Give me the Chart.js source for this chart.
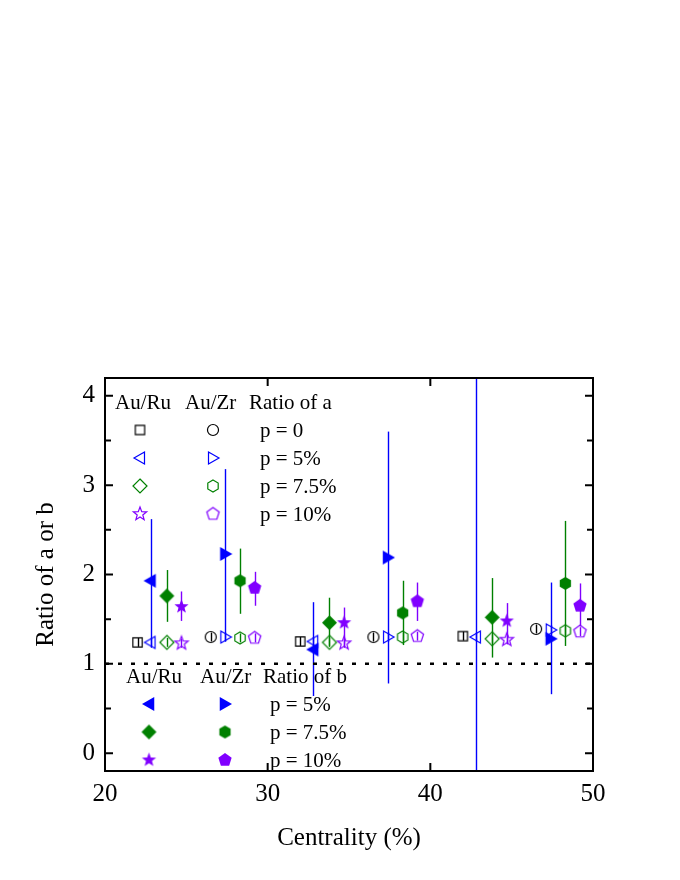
<!DOCTYPE html>
<html>
<head>
<meta charset="utf-8">
<script src="https://cdn.jsdelivr.net/npm/chart.js@4.4.1/dist/chart.umd.min.js"></script>
<style>
  body { margin: 0; background: #fff; }
</style>
</head>
<body>
<canvas id="ratioChart" width="680" height="880"></canvas>
<script>
// axis ranges
const xMin = 20, xMax = 50, yMin = -0.2, yMax = 4.2;
const refLine = 1;

// x positions (centrality %) of each series in the three bins
const xRuP0 = [22.0, 32.0, 42.0];
const xRu5 = [22.8, 32.8, 42.8];
const xRu75 = [23.8, 33.8, 43.8];
const xRu10 = [24.7, 34.7, 44.7];
const xZrP0 = [26.5, 36.5, 46.5];
const xZr5 = [27.4, 37.4, 47.4];
const xZr75 = [28.3, 38.3, 48.3];
const xZr10 = [29.2, 39.2, 49.2];

// ratio of a (open symbols)
const aRuP0 = [1.24, 1.25, 1.31];
const aRu5 = [1.24, 1.25, 1.30];
const aRu75 = [1.24, 1.24, 1.28];
const aRu10 = [1.23, 1.23, 1.27];
const aZrP0 = [1.30, 1.30, 1.39];
const aZr5 = [1.30, 1.30, 1.38];
const aZr75 = [1.29, 1.30, 1.37];
const aZr10 = [1.29, 1.31, 1.36];
const aErr = [0.05, 0.05, 0.05];

// ratio of b (filled symbols) and error bar ranges [low, high]
const bRu5 = [1.93, 1.16, 4.6];
const bRu75 = [1.76, 1.46, 1.52];
const bRu10 = [1.64, 1.46, 1.48];
const bZr5 = [2.23, 2.19, 1.28];
const bZr75 = [1.93, 1.57, 1.90];
const bZr10 = [1.85, 1.70, 1.65];
const eRu5 = [[1.18, 2.62], [0.64, 1.69], [-1.5, 9.0]];
const eRu75 = [[1.47, 2.05], [1.20, 1.74], [1.07, 1.96]];
const eRu10 = [[1.48, 1.81], [1.19, 1.63], [1.22, 1.68]];
const eZr5 = [[1.25, 3.18], [0.78, 3.60], [0.66, 1.91]];
const eZr75 = [[1.56, 2.29], [1.21, 1.93], [1.20, 2.60]];
const eZr10 = [[1.65, 2.03], [1.48, 1.91], [1.42, 1.90]];

const pLabelsA = ['p = 0', 'p = 5%', 'p = 7.5%', 'p = 10%'];
const pLabelsB = ['p = 5%', 'p = 7.5%', 'p = 10%'];

const BLACK = '#000000', BLUE = '#0000ff', GREEN = '#008000', PURPLE = '#8000ff';

function polygon(g, n, r, start) {
  for (let i = 0; i < n; i++) {
    const t = start + i * 2 * Math.PI / n;
    const px = r * Math.cos(t), py = r * Math.sin(t);
    if (i === 0) g.moveTo(px, py); else g.lineTo(px, py);
  }
  g.closePath();
}

// build a marker image for pointStyle
function marker(shape, color, filled, size) {
  const c = document.createElement('canvas');
  c.width = c.height = size + 4;
  const g = c.getContext('2d');
  g.translate(c.width / 2, c.height / 2);
  const r = size / 2;
  g.beginPath();
  if (shape === 'square') {
    g.rect(-r * 0.85, -r * 0.85, r * 1.7, r * 1.7);
  } else if (shape === 'circle') {
    g.arc(0, 0, r * 0.92, 0, Math.PI * 2);
  } else if (shape === 'left') {
    g.moveTo(-r, 0); g.lineTo(r * 0.75, -r); g.lineTo(r * 0.75, r); g.closePath();
  } else if (shape === 'right') {
    g.moveTo(r, 0); g.lineTo(-r * 0.75, -r); g.lineTo(-r * 0.75, r); g.closePath();
  } else if (shape === 'diamond') {
    polygon(g, 4, r, -Math.PI / 2);
  } else if (shape === 'hexagon') {
    polygon(g, 6, r, -Math.PI / 2);
  } else if (shape === 'pentagon') {
    polygon(g, 5, r, -Math.PI / 2);
  } else if (shape === 'star') {
    for (let i = 0; i < 10; i++) {
      const t = -Math.PI / 2 + i * Math.PI / 5;
      const rr = i % 2 === 0 ? r : r * 0.42;
      if (i === 0) g.moveTo(rr * Math.cos(t), rr * Math.sin(t));
      else g.lineTo(rr * Math.cos(t), rr * Math.sin(t));
    }
    g.closePath();
  }
  if (filled) {
    g.fillStyle = color; g.fill();
  } else {
    g.strokeStyle = color; g.lineWidth = 1.2; g.stroke();
  }
  return c;
}

const mk = {
  ruP0: marker('square', BLACK, false, 11),
  zrP0: marker('circle', BLACK, false, 12),
  ru5o: marker('left', BLUE, false, 12),
  zr5o: marker('right', BLUE, false, 12),
  ru75o: marker('diamond', GREEN, false, 14),
  zr75o: marker('hexagon', GREEN, false, 12),
  ru10o: marker('star', PURPLE, false, 14),
  zr10o: marker('pentagon', PURPLE, false, 13),
  ru5f: marker('left', BLUE, true, 14),
  zr5f: marker('right', BLUE, true, 14),
  ru75f: marker('diamond', GREEN, true, 15),
  zr75f: marker('hexagon', GREEN, true, 13),
  ru10f: marker('star', PURPLE, true, 15),
  zr10f: marker('pentagon', PURPLE, true, 14)
};

function series(xs, ys, errs, img, color) {
  return {
    data: xs.map((v, i) => ({x: v, y: ys[i]})),
    err: errs,
    errColor: color,
    pointStyle: img,
    showLine: false
  };
}
const sym = (ys) => ys.map((v, i) => [v - aErr[i], v + aErr[i]]);

const datasets = [
  {
    type: 'line',
    data: [{x: xMin, y: refLine}, {x: xMax, y: refLine}],
    borderColor: BLACK, borderWidth: 2.5, borderDash: [4, 9],
    pointRadius: 0
  },
  series(xRuP0, aRuP0, sym(aRuP0), mk.ruP0, BLACK),
  series(xZrP0, aZrP0, sym(aZrP0), mk.zrP0, BLACK),
  series(xRu5, aRu5, sym(aRu5), mk.ru5o, BLUE),
  series(xZr5, aZr5, sym(aZr5), mk.zr5o, BLUE),
  series(xRu75, aRu75, sym(aRu75), mk.ru75o, GREEN),
  series(xZr75, aZr75, sym(aZr75), mk.zr75o, GREEN),
  series(xRu10, aRu10, sym(aRu10), mk.ru10o, PURPLE),
  series(xZr10, aZr10, sym(aZr10), mk.zr10o, PURPLE),
  series(xRu5, bRu5, eRu5, mk.ru5f, BLUE),
  series(xZr5, bZr5, eZr5, mk.zr5f, BLUE),
  series(xRu75, bRu75, eRu75, mk.ru75f, GREEN),
  series(xZr75, bZr75, eZr75, mk.zr75f, GREEN),
  series(xRu10, bRu10, eRu10, mk.ru10f, PURPLE),
  series(xZr10, bZr10, eZr10, mk.zr10f, PURPLE)
];

// vertical error bars, drawn under the symbols
const errorBars = {
  id: 'errorBars',
  beforeDatasetsDraw(chart) {
    const {ctx, chartArea: a, scales: {x, y}} = chart;
    ctx.save();
    ctx.beginPath();
    ctx.rect(a.left, a.top, a.right - a.left, a.bottom - a.top);
    ctx.clip();
    ctx.lineWidth = 1.4;
    chart.data.datasets.forEach(ds => {
      if (!ds.err) return;
      ctx.strokeStyle = ds.errColor;
      ds.data.forEach((p, i) => {
        const px = Math.round(x.getPixelForValue(p.x)) + 0.5;
        ctx.beginPath();
        ctx.moveTo(px, y.getPixelForValue(ds.err[i][0]));
        ctx.lineTo(px, y.getPixelForValue(ds.err[i][1]));
        ctx.stroke();
      });
    });
    ctx.restore();
  }
};

// box frame with inward ticks on all four sides
const frame = {
  id: 'frame',
  afterDatasetsDraw(chart) {
    const {ctx, chartArea: a, scales: {x, y}} = chart;
    ctx.save();
    ctx.strokeStyle = BLACK;
    ctx.lineWidth = 2;
    ctx.strokeRect(a.left, a.top, a.right - a.left, a.bottom - a.top);
    ctx.beginPath();
    x.ticks.forEach(t => {
      if (t.value <= xMin || t.value >= xMax) return;
      const px = x.getPixelForValue(t.value);
      ctx.moveTo(px, a.bottom); ctx.lineTo(px, a.bottom - 8);
      ctx.moveTo(px, a.top); ctx.lineTo(px, a.top + 8);
    });
    y.ticks.forEach(t => {
      const py = y.getPixelForValue(t.value);
      const len = Number.isInteger(t.value) ? 8 : 6;
      ctx.moveTo(a.left, py); ctx.lineTo(a.left + len, py);
      ctx.moveTo(a.right, py); ctx.lineTo(a.right - len, py);
    });
    ctx.stroke();
    ctx.restore();
  }
};

// the two legend blocks inside the plot
const legendBlocks = {
  id: 'legendBlocks',
  afterDraw(chart) {
    const {ctx, chartArea: a} = chart;
    const put = (img, cx, cy) => ctx.drawImage(img, cx - img.width / 2, cy - img.height / 2);
    ctx.save();
    ctx.font = '21px "Liberation Serif", "Times New Roman", serif';
    ctx.fillStyle = BLACK;
    ctx.textBaseline = 'middle';

    const t1 = a.top + 25;
    ctx.fillText('Au/Ru', a.left + 10, t1);
    ctx.fillText('Au/Zr', a.left + 80, t1);
    ctx.fillText('Ratio of a', a.left + 144, t1);
    const openRu = [mk.ruP0, mk.ru5o, mk.ru75o, mk.ru10o];
    const openZr = [mk.zrP0, mk.zr5o, mk.zr75o, mk.zr10o];
    pLabelsA.forEach((lab, i) => {
      const ry = a.top + 52 + i * 28;
      put(openRu[i], a.left + 35, ry);
      put(openZr[i], a.left + 108, ry);
      ctx.fillText(lab, a.left + 155, ry + 1);
    });

    const t2 = a.top + 299;
    ctx.fillText('Au/Ru', a.left + 21, t2);
    ctx.fillText('Au/Zr', a.left + 95, t2);
    ctx.fillText('Ratio of b', a.left + 158, t2);
    const fillRu = [mk.ru5f, mk.ru75f, mk.ru10f];
    const fillZr = [mk.zr5f, mk.zr75f, mk.zr10f];
    pLabelsB.forEach((lab, i) => {
      const ry = a.top + 326 + i * 28;
      put(fillRu[i], a.left + 44, ry);
      put(fillZr[i], a.left + 120, ry);
      ctx.fillText(lab, a.left + 165, ry + 1);
    });
    ctx.restore();
  }
};

Chart.defaults.font.family = '"Liberation Serif", "Times New Roman", serif';
Chart.defaults.font.size = 25;
Chart.defaults.color = BLACK;

new Chart(document.getElementById('ratioChart').getContext('2d'), {
  type: 'scatter',
  data: { datasets: datasets },
  options: {
    responsive: false,
    animation: false,
    events: [],
    layout: { padding: { top: 378, right: 87, left: 0, bottom: 0 } },
    plugins: {
      legend: { display: false },
      tooltip: { enabled: false }
    },
    scales: {
      x: {
        type: 'linear',
        min: xMin,
        max: xMax,
        grid: { display: false, drawTicks: false },
        border: { display: false },
        ticks: { stepSize: 10, padding: 8, maxRotation: 0 },
        title: { display: true, text: 'Centrality (%)', padding: { top: 0, bottom: 27 } },
        afterFit(scale) { scale.height = 109; }
      },
      y: {
        type: 'linear',
        min: yMin,
        max: yMax,
        grid: { display: false, drawTicks: false },
        border: { display: false },
        ticks: {
          stepSize: 0.5,
          includeBounds: false,
          padding: 10,
          autoSkip: false,
          callback: v => Number.isInteger(v) ? v : ''
        },
        title: { display: true, text: 'Ratio of a or b', padding: { top: 31, bottom: 0 } },
        afterFit(scale) { scale.width = 105; }
      }
    }
  },
  plugins: [errorBars, frame, legendBlocks]
});
</script>
</body>
</html>
